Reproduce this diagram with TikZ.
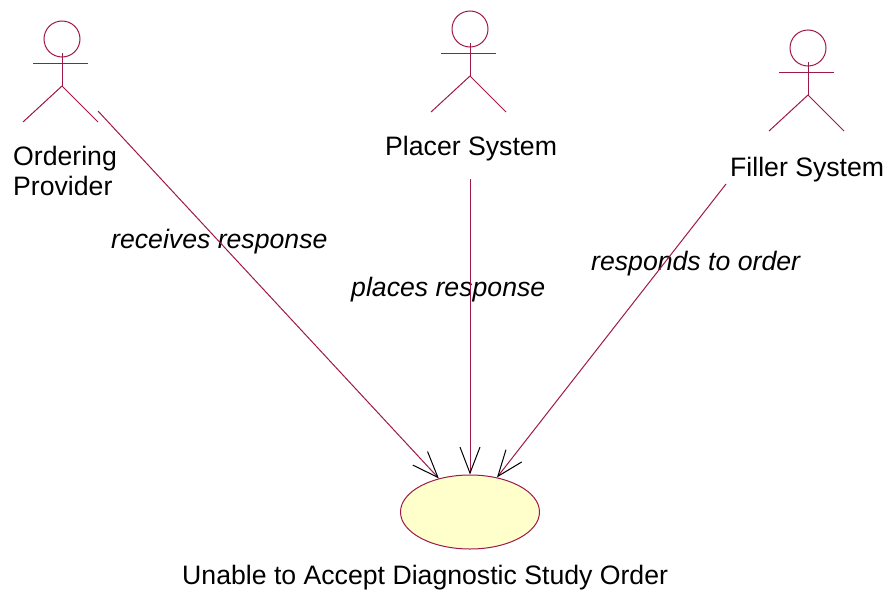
\documentclass[tikz,border=0pt]{standalone}
\usepackage{fontspec}
\setmainfont{Liberation Sans}
\usetikzlibrary{arrows.meta,shapes.geometric}
\definecolor{rosered}{RGB}{158,24,72}
\definecolor{usefill}{RGB}{255,255,204}
\tikzset{
  x=1pt,y=-1pt,
  lbl/.style={inner sep=0pt,anchor=base west,font=\fontsize{26.65}{30}\selectfont},
  ilbl/.style={lbl,font=\fontsize{26.65}{30}\selectfont\itshape},
  part/.style={draw=rosered,line width=1pt},
  assoc/.style={draw=rosered,line width=1pt,-{Straight Barb[color=black,length=26pt,width=20pt,line width=1pt]}},
  usecase/.style={ellipse,draw=rosered,line width=1pt,fill=usefill,inner sep=0pt,minimum width=139pt,minimum height=74pt},
  pics/actor/.style={code={
    \draw[part] (0,0) circle[radius=18];
    \draw[part] (0,14) -- (0,47);
    \draw[part] (-29,24) -- (26,24);
    \draw[part] (-39,83) -- (0,47) -- (36,83);
  }}
}
\begin{document}
\begin{tikzpicture}
\useasboundingbox (0,0) rectangle (885,589);
\pic at (62,39) {actor};
\pic at (470,29) {actor};
\pic at (808,48) {actor};
\node[lbl] (ordering) at (13,165) {Ordering};
\node[lbl] (provider) at (13,195) {Provider};
\node[lbl] (placer) at (385,155) {Placer System};
\node[lbl] (filler) at (730,176) {Filler System};
\node[usecase] (uc) at (470,512) {};
\node[lbl] (uclabel) at (182,584) {Unable to Accept Diagnostic Study Order};
\node[ilbl] (l1) at (111,248) {receives response};
\node[ilbl] (l2) at (351,296) {places response};
\node[ilbl] (l3) at (591,270) {responds to order};
\coordinate (s1) at (98,111);
\coordinate (s2) at (470,179);
\coordinate (s3) at (726,184);
\draw[assoc] (s1) -- (uc);
\draw[assoc] (s2) -- (uc);
\draw[assoc] (s3) -- (uc);
\end{tikzpicture}
\end{document}
